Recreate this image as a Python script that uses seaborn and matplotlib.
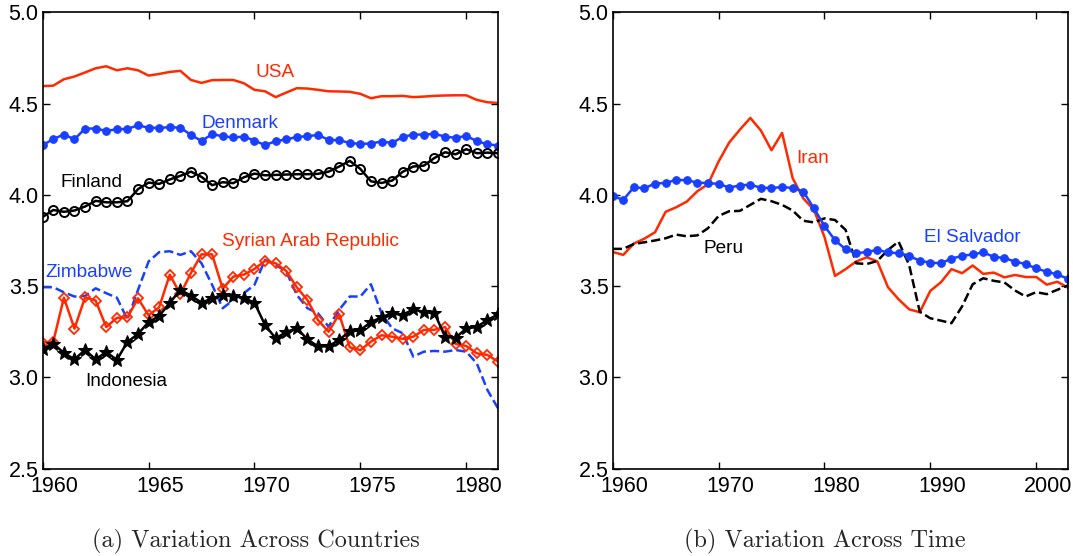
import numpy as np
import pandas as pd
import matplotlib
matplotlib.use("Agg")
import matplotlib.pyplot as plt
import matplotlib.transforms as mtransforms
import seaborn as sns

# Panel (a): 44 half-year points, 1960 - 1981.5
years_a = np.arange(44) * 0.5 + 1960

usa = [4.595, 4.598, 4.633, 4.648, 4.670, 4.693, 4.704, 4.682, 4.693, 4.682,
       4.653, 4.662, 4.673, 4.679, 4.629, 4.613, 4.628, 4.629, 4.629, 4.611,
       4.575, 4.567, 4.535, 4.560, 4.584, 4.582, 4.575, 4.567, 4.566, 4.564,
       4.553, 4.529, 4.540, 4.540, 4.542, 4.535, 4.538, 4.542, 4.544, 4.545,
       4.545, 4.520, 4.507, 4.503]
denmark = [4.272, 4.306, 4.330, 4.304, 4.363, 4.363, 4.350, 4.359, 4.361, 4.381,
           4.367, 4.367, 4.370, 4.368, 4.328, 4.295, 4.332, 4.321, 4.314, 4.319,
           4.297, 4.272, 4.294, 4.303, 4.317, 4.321, 4.328, 4.301, 4.299, 4.284,
           4.279, 4.281, 4.292, 4.284, 4.317, 4.330, 4.330, 4.334, 4.319, 4.312,
           4.323, 4.294, 4.277, 4.270]
finland = [3.879, 3.917, 3.907, 3.914, 3.936, 3.967, 3.959, 3.959, 3.965, 4.031,
           4.067, 4.060, 4.084, 4.104, 4.127, 4.098, 4.053, 4.069, 4.064, 4.096,
           4.116, 4.107, 4.109, 4.111, 4.113, 4.113, 4.115, 4.127, 4.155, 4.186,
           4.142, 4.074, 4.065, 4.078, 4.126, 4.155, 4.160, 4.202, 4.233, 4.222,
           4.250, 4.228, 4.231, 4.228]
syria = [3.191, 3.196, 3.437, 3.267, 3.439, 3.421, 3.276, 3.326, 3.329, 3.433,
         3.340, 3.384, 3.563, 3.455, 3.572, 3.674, 3.674, 3.486, 3.552, 3.563,
         3.594, 3.638, 3.625, 3.583, 3.493, 3.424, 3.314, 3.250, 3.347, 3.165,
         3.149, 3.196, 3.231, 3.223, 3.211, 3.223, 3.260, 3.261, 3.276, 3.183,
         3.172, 3.132, 3.123, 3.087]
indonesia = [3.156, 3.185, 3.134, 3.099, 3.150, 3.099, 3.139, 3.096, 3.194, 3.238,
             3.303, 3.336, 3.409, 3.479, 3.448, 3.409, 3.433, 3.449, 3.448, 3.435,
             3.409, 3.287, 3.214, 3.248, 3.270, 3.208, 3.170, 3.170, 3.206, 3.252,
             3.259, 3.303, 3.329, 3.351, 3.342, 3.373, 3.358, 3.353, 3.223, 3.217,
             3.268, 3.277, 3.314, 3.345]
zimbabwe = [3.494, 3.494, 3.466, 3.443, 3.446, 3.488, 3.461, 3.437, 3.318, 3.479,
            3.635, 3.686, 3.691, 3.671, 3.691, 3.625, 3.507, 3.379, 3.424, 3.461,
            3.507, 3.644, 3.616, 3.580, 3.452, 3.379, 3.351, 3.278, 3.370, 3.443,
            3.443, 3.510, 3.351, 3.269, 3.242, 3.114, 3.141, 3.145, 3.141, 3.150,
            3.141, 3.077, 2.931, 2.831]

# Panel (b): annual, 1960 - 2003
years_b = np.arange(1960, 2004)

el_salvador = [3.994, 3.972, 4.042, 4.036, 4.062, 4.065, 4.082, 4.080, 4.067, 4.064,
               4.060, 4.040, 4.051, 4.056, 4.038, 4.038, 4.042, 4.038, 4.018, 3.927,
               3.830, 3.751, 3.702, 3.680, 3.687, 3.698, 3.685, 3.680, 3.667, 3.638,
               3.629, 3.625, 3.651, 3.665, 3.674, 3.685, 3.660, 3.654, 3.634, 3.621,
               3.597, 3.579, 3.564, 3.540]
iran = [3.687, 3.671, 3.733, 3.760, 3.795, 3.907, 3.932, 3.963, 4.020, 4.058,
        4.182, 4.286, 4.356, 4.421, 4.352, 4.244, 4.339, 4.091, 3.981, 3.918,
        3.770, 3.556, 3.593, 3.635, 3.658, 3.635, 3.494, 3.428, 3.373, 3.357,
        3.474, 3.521, 3.593, 3.571, 3.613, 3.567, 3.574, 3.548, 3.561, 3.550,
        3.550, 3.508, 3.524, 3.491]
peru = [3.704, 3.704, 3.731, 3.740, 3.750, 3.762, 3.782, 3.773, 3.778, 3.817,
        3.884, 3.910, 3.912, 3.945, 3.978, 3.965, 3.945, 3.914, 3.858, 3.849,
        3.871, 3.862, 3.808, 3.625, 3.621, 3.638, 3.698, 3.744, 3.616, 3.360,
        3.324, 3.311, 3.297, 3.389, 3.510, 3.543, 3.529, 3.520, 3.476, 3.443,
        3.467, 3.456, 3.480, 3.504]

RED = "#ff2a00"
BLUE = "#1a40ff"

sns.set_style("ticks")
plt.rcParams["font.family"] = ["Liberation Sans", "DejaVu Sans"]

fig = plt.figure(figsize=(10.73, 5.56), dpi=100)
ax1 = fig.add_axes([0.0398, 0.157, 0.4243, 0.821])
ax2 = fig.add_axes([0.571, 0.157, 0.4243, 0.821])

lw = 1.8
sns.lineplot(x=years_a, y=usa, ax=ax1, color=RED, lw=lw)
sns.lineplot(x=years_a, y=denmark, ax=ax1, color=BLUE, lw=lw, marker="o",
             markersize=5.5, markeredgecolor=BLUE)
sns.lineplot(x=years_a, y=finland, ax=ax1, color="black", lw=lw, marker="o",
             markersize=6.5, markerfacecolor="none", markeredgecolor="black",
             markeredgewidth=1.4)
sns.lineplot(x=years_a, y=zimbabwe, ax=ax1, color=BLUE, lw=lw, linestyle="--")
sns.lineplot(x=years_a, y=syria, ax=ax1, color=RED, lw=lw, marker="D",
             markersize=5.5, markerfacecolor="none", markeredgecolor=RED,
             markeredgewidth=1.3)
sns.lineplot(x=years_a, y=indonesia, ax=ax1, color="black", lw=lw, marker="*",
             markersize=10, markeredgecolor="black")

sns.lineplot(x=years_b, y=iran, ax=ax2, color=RED, lw=lw)
sns.lineplot(x=years_b, y=peru, ax=ax2, color="black", lw=lw, linestyle="--")
sns.lineplot(x=years_b, y=el_salvador, ax=ax2, color=BLUE, lw=lw, marker="o",
             markersize=5.5, markeredgecolor=BLUE)

lab = dict(fontsize=13.7, ha="center", va="center")
ax1.text(1970.95, 4.668, "USA", color=RED, **lab)
ax1.text(1969.3, 4.39, "Denmark", color=BLUE, **lab)
ax1.text(1962.3, 4.067, "Finland", color="black", **lab)
ax1.text(1972.65, 3.744, "Syrian Arab Republic", color=RED, **lab)
ax1.text(1962.2, 3.576, "Zimbabwe", color=BLUE, **lab)
ax1.text(1963.95, 2.977, "Indonesia", color="black", **lab)

ax2.text(1978.9, 4.198, "Iran", color=RED, **lab)
ax2.text(1970.5, 3.708, "Peru", color="black", **lab)
ax2.text(1994.0, 3.764, "El Salvador", color=BLUE, **lab)

# year labels sit a little to the right of their ticks in the original
shift = mtransforms.ScaledTranslation(0.12, 0, fig.dpi_scale_trans)

for ax, xmax, xt in [(ax1, 1981.5, [1960, 1965, 1970, 1975, 1980]),
                     (ax2, 2003, [1960, 1970, 1980, 1990, 2000])]:
    ax.set_xlim(1960, xmax)
    ax.set_ylim(2.5, 5.0)
    ax.set_xticks(xt)
    ax.set_yticks([2.5, 3.0, 3.5, 4.0, 4.5, 5.0])
    ax.set_yticklabels(["2.5", "3.0", "3.5", "4.0", "4.5", "5.0"])
    ax.tick_params(direction="in", top=True, right=True, length=5, width=1,
                   labelsize=15.5, color="black", labelcolor="black")
    ax.tick_params(axis="x", pad=5)
    ax.tick_params(axis="y", pad=3)
    for s in ax.spines.values():
        s.set_visible(True)
        s.set_linewidth(1.2)
        s.set_color("black")
    ax.grid(False)
    for t in ax.get_xticklabels():
        t.set_transform(t.get_transform() + shift)

fig.text(0.2386, 0.026, "(a) Variation Across Countries", family="cmr10",
         fontsize=17.5, ha="center", va="center")
fig.text(0.769, 0.026, "(b) Variation Across Time", family="cmr10",
         fontsize=17.5, ha="center", va="center")

fig.savefig("out.png", dpi=100)
